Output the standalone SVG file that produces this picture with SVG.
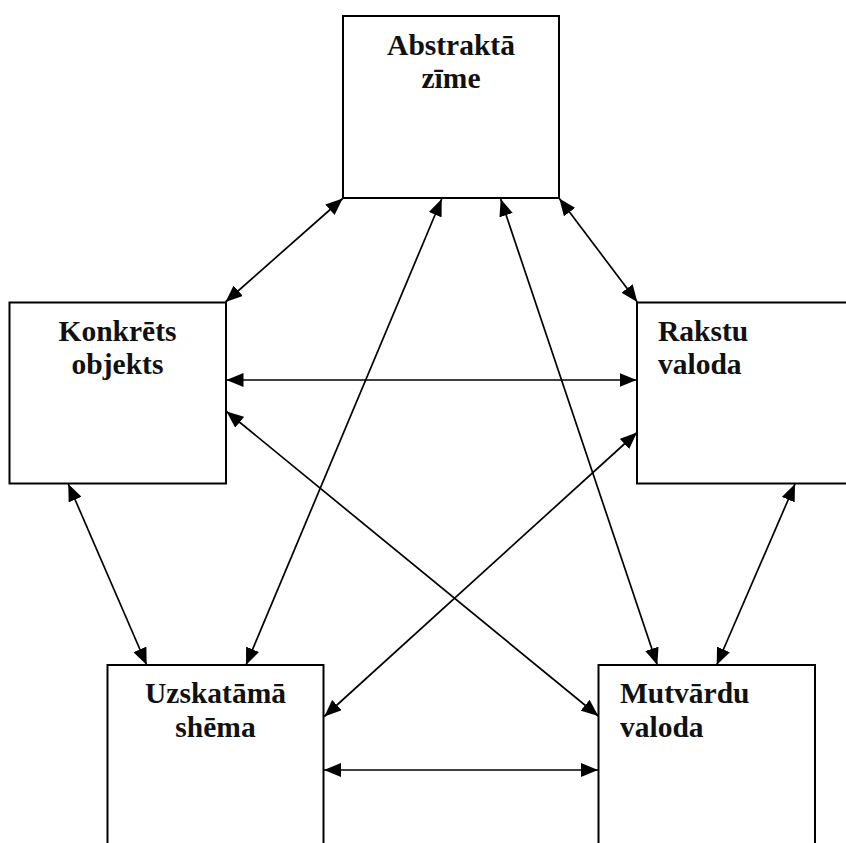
<svg xmlns="http://www.w3.org/2000/svg" width="846" height="843" viewBox="0 0 846 843">
  <style>
    .box { fill: #ffffff; stroke: #000000; stroke-width: 2; }
    .lbl { font-family: "Liberation Serif", "Times New Roman", serif; font-weight: bold; font-size: 29.5px; fill: #111111; }
    .mid { text-anchor: middle; }
    .link { stroke: #000000; stroke-width: 1.7; fill: none; marker-start: url(#head); marker-end: url(#head); }
  </style>
  <defs>
    <marker id="head" viewBox="0 0 17 14" refX="17" refY="7" markerWidth="17" markerHeight="14" markerUnits="userSpaceOnUse" orient="auto-start-reverse">
      <path d="M0,0 L17,7 L0,14 z" fill="#000000"/>
    </marker>
  </defs>
  <rect width="846" height="843" fill="#ffffff"/>

  <g id="abstrakta-zime">
    <rect class="box" x="343" y="16" width="216" height="182"/>
    <text class="lbl mid" x="451" y="55">Abstraktā</text>
    <text class="lbl mid" x="451" y="88">zīme</text>
  </g>

  <g id="konkrets-objekts">
    <rect class="box" x="9.5" y="302.5" width="216.5" height="181"/>
    <text class="lbl mid" x="117.5" y="341">Konkrēts</text>
    <text class="lbl mid" x="117.5" y="374">objekts</text>
  </g>

  <g id="rakstu-valoda">
    <rect class="box" x="637" y="302.5" width="217" height="181"/>
    <text class="lbl" x="658" y="341">Rakstu</text>
    <text class="lbl" x="658" y="374">valoda</text>
  </g>

  <g id="uzskatama-shema">
    <rect class="box" x="107.5" y="665" width="216" height="190"/>
    <text class="lbl mid" x="215.5" y="703">Uzskatāmā</text>
    <text class="lbl mid" x="215.5" y="737">shēma</text>
  </g>

  <g id="mutvardu-valoda">
    <rect class="box" x="598.5" y="665" width="216.5" height="190"/>
    <text class="lbl" x="620" y="703">Mutvārdu</text>
    <text class="lbl" x="620" y="737">valoda</text>
  </g>

  <g id="connectors">
    <line class="link" x1="342.7" y1="198.5" x2="225.5" y2="302"/>
    <line class="link" x1="559.3" y1="198.5" x2="637.3" y2="302"/>
    <line class="link" x1="226.5" y1="380" x2="636.5" y2="380"/>
    <line class="link" x1="226.5" y1="411.5" x2="598.3" y2="716"/>
    <line class="link" x1="637" y1="432.5" x2="324.3" y2="716.5"/>
    <line class="link" x1="324" y1="770" x2="598" y2="770"/>
    <line class="link" x1="68.3" y1="484" x2="146.7" y2="665"/>
    <line class="link" x1="441.7" y1="199" x2="246" y2="665"/>
    <line class="link" x1="500.7" y1="199" x2="657.3" y2="665"/>
    <line class="link" x1="795" y1="484" x2="716.7" y2="665"/>
  </g>
</svg>
